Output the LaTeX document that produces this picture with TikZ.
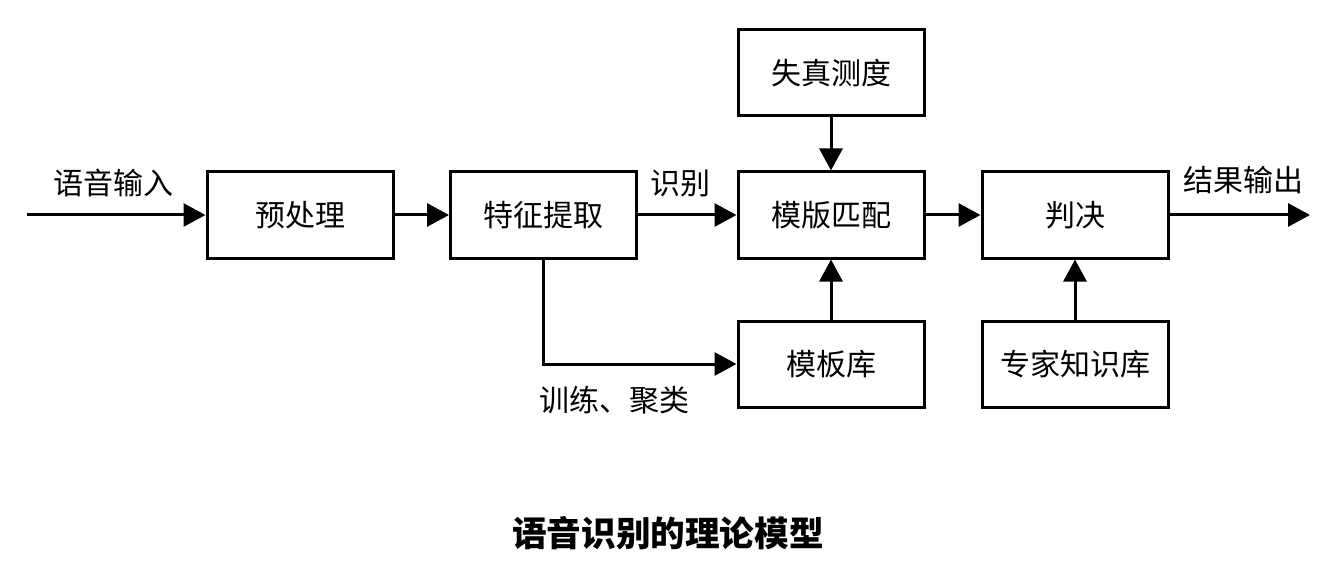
\documentclass[tikz,border=0pt]{standalone}
\usepackage{fontspec}
\setmainfont{Noto Sans CJK SC}
\usetikzlibrary{arrows.meta}

\begin{document}
\begin{tikzpicture}[x=0.5pt,y=-0.5pt,line width=1.5pt,font=\fontsize{15pt}{18pt}\selectfont,
  block/.style={draw,minimum width=93pt,minimum height=43pt,inner sep=0pt},
  flow/.style={-{Triangle[length=11pt,width=11.5pt]}}]
\useasboundingbox (0,0) rectangle (1340,567);
\node[block] (pre) at (300,215) {预处理};
\node[block] (feat) at (543.5,215) {特征提取};
\node[block] (match) at (831,215) {模版匹配};
\node[block] (judge) at (1075,215) {判决};
\node[block] (dist) at (831,73) {失真测度};
\node[block] (lib) at (831,364) {模板库};
\node[block] (expert) at (1075,364) {专家知识库};
\coordinate (in) at (27,215);
\coordinate (out) at (1310,215);
\draw[flow] (in)--(pre);
\draw[flow] (pre)--(feat);
\draw[flow] (feat)--(match);
\draw[flow] (match)--(judge);
\draw[flow] (judge)--(out);
\draw[flow] (dist)--(match);
\draw[flow] (lib)--(match);
\draw[flow] (expert)--(judge);
\draw[flow] (feat.south) |- (lib.west);
\node[inner sep=1pt] (inlbl) at (114,183) {语音输入};
\node[inner sep=1pt] (reclbl) at (680,183) {识别};
\node[inner sep=1pt] (outlbl) at (1243,180) {结果输出};
\node[inner sep=1pt] (trainlbl) at (614,400) {训练、聚类};
\node[font=\fontsize{17.3pt}{20pt}\selectfont\bfseries] (title) at (668,533) {语音识别的理论模型};
\end{tikzpicture}
\end{document}
